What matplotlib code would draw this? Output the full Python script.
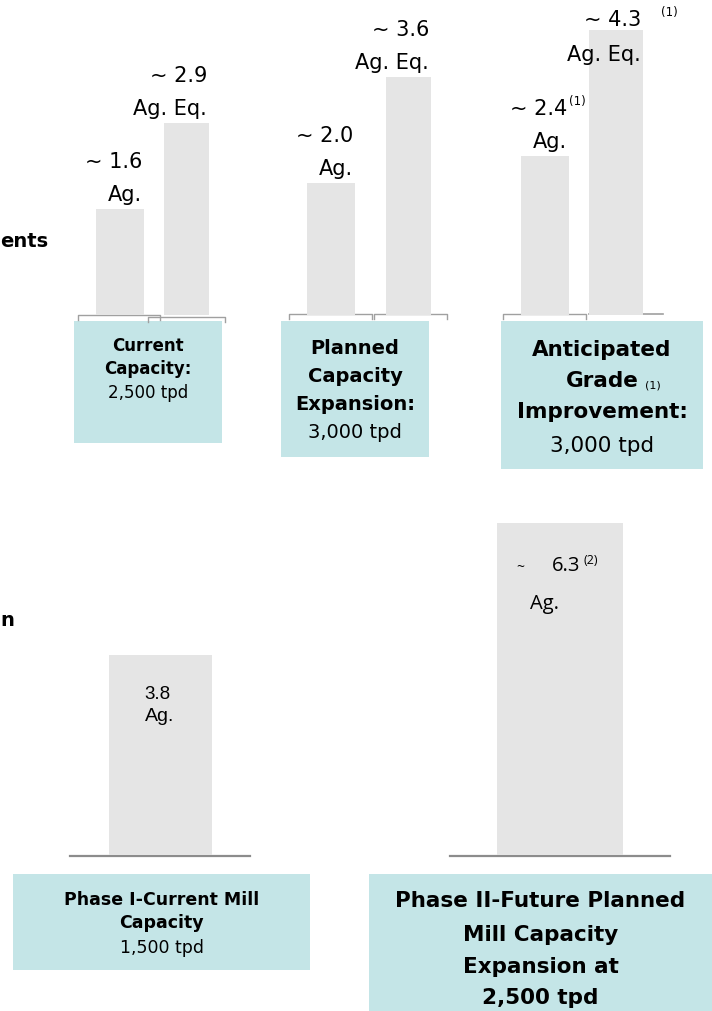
"""
Silver production steps: grade / capacity bars with teal captions
"""

import matplotlib.pyplot as plt
from matplotlib.patches import Rectangle

# upper chart: three pairs (Ag. then Ag. Eq.)
top_values = [1.6, 2.9, 2.0, 3.6, 2.4, 4.3]
top_units = ['Ag.', 'Ag. Eq.', 'Ag.', 'Ag. Eq.', 'Ag.', 'Ag. Eq.']
top_notes = ['', '', '', '', '(1)', '(1)']

# lower chart: mill phases
low_values = [3.8, 6.3]
low_units = ['Ag.', 'Ag.']

BAR = '#E5E5E5'
TEAL = '#C4E5E7'
LINE = '#8C8C8C'
W, H = 712, 1012

fig = plt.figure(figsize=(W / 100, H / 100), dpi=100)

# canvas in pixel coords for captions and frames
cv = fig.add_axes([0, 0, 1, 1])
cv.set_xlim(0, W)
cv.set_ylim(H, 0)
cv.axis('off')

# --- upper bars ---
top_base = 316
ax = fig.add_axes([0, (H - top_base) / H, 1, top_base / H])
ax.set_xlim(0, W)
ax.set_ylim(0, 4.77)
ax.axis('off')
ax.patch.set_alpha(0)

top_x = [120, 186.5, 331, 408.5, 545, 616]
top_w = [48, 45, 48, 45, 48, 54]
bars = ax.bar(top_x, top_values, width=top_w, color=BAR)

for i, (b, v) in enumerate(zip(bars, top_values)):
    right = b.get_x() + b.get_width() - 2
    if i == 5:
        # no room above the tallest bar, labels sit over its top
        dy_num, dy_unit = 11, -24
    else:
        dy_num, dy_unit = 48, 15
    ax.annotate(f'~ {v:.1f}', xy=(right, v), xytext=(0, dy_num),
                textcoords='offset pixels', ha='right', va='center', fontsize=15)
    ax.annotate(top_units[i], xy=(right, v), xytext=(0, dy_unit),
                textcoords='offset pixels', ha='right', va='center', fontsize=15)
    if top_notes[i]:
        gap = 20 if i == 5 else 2
        ax.annotate(top_notes[i], xy=(right, v), xytext=(gap, dy_num + 8),
                    textcoords='offset pixels', ha='left', va='center', fontsize=8.5)

# small axis brackets under each bar
brackets = [(78, 160, 316, True), (148, 225, 318, True),
            (289, 372, 315, True), (374, 447, 315, True),
            (503, 586, 315, True), (589, 663, 315, False)]
for x1, x2, y, ticks in brackets:
    if ticks:
        cv.plot([x1, x1, x2, x2], [y + 5, y, y, y + 5], color='#A0A0A0', lw=1)
    else:
        cv.plot([x1, x2], [y, y], color='#A0A0A0', lw=1.2)

# --- lower bars ---
low_base = 856
ax2 = fig.add_axes([0, (H - low_base) / H, 1, (low_base - 500) / H])
ax2.set_xlim(0, W)
ax2.set_ylim(0, 6.76)
ax2.axis('off')
ax2.patch.set_alpha(0)

low_x = [160.5, 560]
low_w = [103, 126]
bars2 = ax2.bar(low_x, low_values, width=low_w, color=BAR)

c, v = low_x[0], low_values[0]
narrow = ['Liberation Sans Narrow', 'Liberation Sans', 'DejaVu Sans']
ax2.annotate(f'{v:.1f}', xy=(c, v), xytext=(-3, -39), textcoords='offset pixels',
             ha='center', va='center', fontsize=13.5, family=narrow)
ax2.annotate(low_units[0], xy=(c, v), xytext=(-1, -61), textcoords='offset pixels',
             ha='center', va='center', fontsize=14, family=narrow)

c, v = low_x[1], low_values[1]
sans = ['Open Sans', 'DejaVu Sans']
ax2.annotate('~', xy=(c, v), xytext=(-40, -43), textcoords='offset pixels',
             ha='center', va='center', fontsize=10, family=sans)
ax2.annotate(f'{v:.1f}', xy=(c, v), xytext=(6, -42), textcoords='offset pixels',
             ha='center', va='center', fontsize=14.5, family=sans)
ax2.annotate('(2)', xy=(c, v), xytext=(23, -36), textcoords='offset pixels',
             ha='left', va='center', fontsize=9, family=sans)
ax2.annotate(low_units[1], xy=(c, v), xytext=(-15, -80), textcoords='offset pixels',
             ha='center', va='center', fontsize=14.5, family=sans)

for x1, x2 in [(70, 250), (450, 670)]:
    cv.plot([x1, x2], [857, 857], color=LINE, lw=1.6)

# --- teal caption boxes ---
def caption(x, y, w, h, lines, ys, size, cx=None):
    cv.add_patch(Rectangle((x, y), w, h, color=TEAL, lw=0))
    cx = x + w / 2 if cx is None else cx
    for (txt, wt), yy in zip(lines, ys):
        cv.text(cx, yy, txt, ha='center', va='center', fontsize=size, fontweight=wt)

caption(74, 322, 148, 122,
        [('Current', 'bold'), ('Capacity:', 'bold'), ('2,500 tpd', 'normal')],
        [346, 369, 393], 12)
caption(281, 322, 148, 136,
        [('Planned', 'bold'), ('Capacity', 'bold'), ('Expansion:', 'bold'),
         ('3,000 tpd', 'normal')],
        [348, 376, 404, 432], 14)
caption(501, 322, 202, 148,
        [('Anticipated', 'bold'), ('Grade', 'bold'), ('Improvement:', 'bold'),
         ('3,000 tpd', 'normal')],
        [350, 381, 412, 446], 15.5)
cv.text(645, 386, '(1)', ha='left', va='center', fontsize=8)

caption(13, 875, 297, 96,
        [('Phase I-Current Mill', 'bold'), ('Capacity', 'bold'), ('1,500 tpd', 'normal')],
        [900, 923, 948], 12.5)
caption(369, 875, 343, 137,
        [('Phase II-Future Planned', 'bold'), ('Mill Capacity', 'bold'),
         ('Expansion at', 'bold'), ('2,500 tpd', 'bold')],
        [901, 935, 967, 998], 15.5)

# row-title fragments visible at the left edge
cv.text(0, 241, 'ents', ha='left', va='center', fontsize=14, fontweight='bold')
cv.text(0, 620, 'n', ha='left', va='center', fontsize=14, fontweight='bold')

fig.savefig('out.png', dpi=100)
